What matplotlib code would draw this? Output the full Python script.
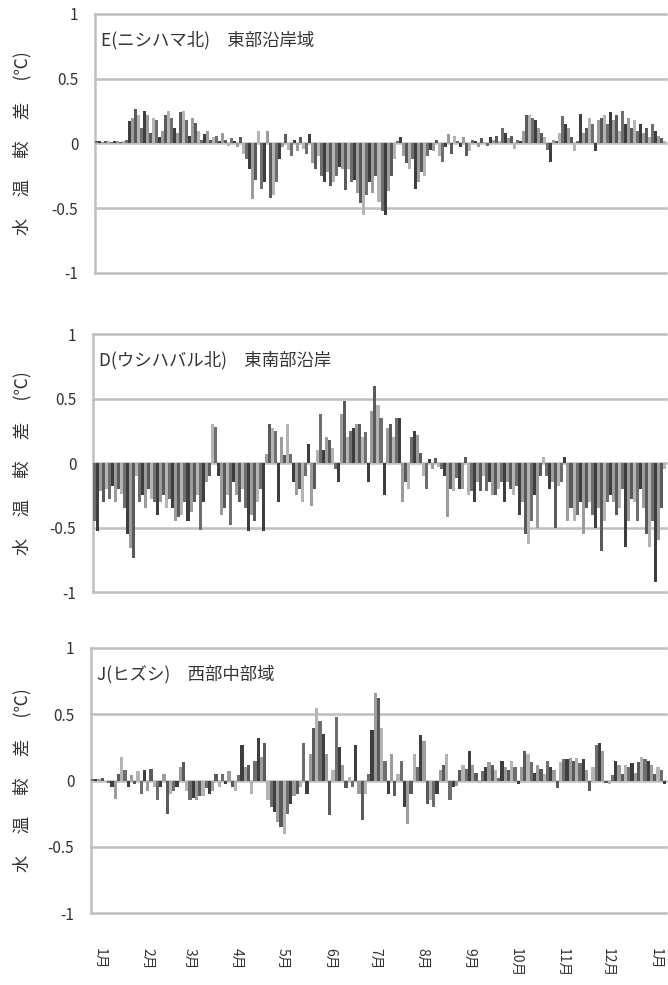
import numpy as np
import matplotlib
matplotlib.use("Agg")
import matplotlib.pyplot as plt

plt.rcParams['font.family'] = ['Noto Sans CJK JP', 'DejaVu Sans']

# 水温較差 (℃) - 3地点
titles = ["E(ニシハマ北)　東部沿岸域", "D(ウシハバル北)　東南部沿岸", "J(ヒズシ)　西部中部域"]
month_labels = ["1月", "2月", "3月", "4月", "5月", "6月", "7月", "8月", "9月", "10月", "11月", "12月", "1月"]
month_days = [0, 31, 59, 90, 120, 151, 181, 212, 243, 273, 304, 334, 365]
y_ticks = [-1, -0.5, 0, 0.5, 1]
y_ticklabels = ["-1", "-0.5", "0", "0.5", "1"]

vals_e = [0.02, 0.02, 0.01, 0.02, 0.02, 0.01, 0.02, 0.02, 0.01, 0.02,
          0.03,
          0.17, 0.2, 0.27, 0.22, 0.12, 0.25, 0.22, 0.08, 0.2, 0.18, 0.05, 0.1, 0.22, 0.25, 0.2,
          0.12, 0.08, 0.24, 0.25, 0.18, 0.06, 0.2, 0.16, 0.1, 0.03, 0.07, 0.1, 0.03, 0.05,
          0.06, 0.02, 0.08, 0.03, -0.02, 0.04, 0.02, -0.03, 0.05,
          -0.08, -0.12, -0.2, -0.43, -0.28, 0.1, -0.35, -0.3, 0.1, -0.42, -0.4, -0.3, -0.12,
          -0.03, 0.07, -0.05, -0.1, 0.03, -0.06, 0.05, -0.04, -0.08, 0.07,
          -0.15, -0.2, -0.1, -0.25, -0.3, -0.22, -0.33,
          -0.3, -0.25, -0.18, -0.2,
          -0.36, -0.2, -0.3, -0.28, -0.38, -0.46, -0.55,
          -0.4, -0.3, -0.38, -0.25, -0.45, -0.52, -0.55,
          -0.37, -0.25, -0.12, 0.02,
          0.05, -0.1, -0.15, -0.2, -0.12, -0.35, -0.3, -0.22, -0.25, -0.1, -0.05,
          -0.06, 0.03, -0.1, -0.14, -0.03, 0.07, -0.08,
          0.06, 0.02, -0.03, 0.05, -0.1, -0.06, 0.03,
          0.02, -0.03, 0.04, 0.01, -0.02, 0.05, 0.03, 0.06, 0.02, 0.12, 0.08, 0.04, 0.06,
          -0.04, 0.03, 0.02,
          0.1, 0.22, 0.22, 0.2, 0.18, 0.12,
          0.08, 0.05, -0.05, -0.14, 0.03, 0.02, 0.08,
          0.21, 0.15, 0.12, 0.05,
          -0.06, 0.02, 0.23, 0.08,
          0.12, 0.2, 0.15, -0.06, 0.18, 0.2, 0.22, 0.15, 0.24, 0.18, 0.22, 0.1, 0.25, 0.15, 0.2, 0.12,
          0.18, 0.1, 0.15, 0.08, 0.12, 0.05, 0.15, 0.1, 0.06, 0.04, 0.02]

vals_d = [-0.45, -0.53, -0.22, -0.3, -0.2,
          -0.28, -0.18, -0.3, -0.2, -0.24, -0.35,
          -0.55, -0.66, -0.74,
          -0.1, -0.3, -0.25, -0.35, -0.2, -0.28, -0.3,
          -0.4, -0.3, -0.25, -0.35, -0.28,
          -0.35, -0.45, -0.42, -0.4,
          -0.3, -0.45, -0.38, -0.3,
          -0.25, -0.52, -0.3, -0.15, -0.1,
          0.3, 0.28, -0.1,
          -0.4, -0.35, -0.25, -0.48,
          -0.15, -0.25, -0.3, -0.2, -0.35, -0.53, -0.4,
          -0.45, -0.3, -0.2, -0.53,
          0.07,
          0.3, 0.27, 0.25,
          -0.3, 0.2, 0.06,
          0.3, 0.07,
          -0.15, -0.25, -0.2, -0.3, -0.1, 0.15, -0.33,
          -0.2, 0.1, 0.38, 0.1, 0.2, 0.18, 0.12, -0.05,
          -0.15,
          0.38, 0.48, 0.2, 0.25,
          0.27, 0.3, 0.3, 0.2, 0.24,
          -0.15,
          0.4, 0.6, 0.45, 0.35,
          -0.25,
          0.27, 0.3, 0.2, 0.35, 0.35,
          -0.3, -0.15, -0.2,
          0.2, 0.25, 0.22,
          0.08, -0.1, -0.2, 0.03,
          -0.05, 0.04, -0.03, -0.05,
          -0.1, -0.42, -0.2, -0.22, -0.12, -0.2,
          -0.2, 0.05, -0.25, -0.22, -0.3, -0.15, -0.22,
          -0.1, -0.22, -0.15, -0.25, -0.25, -0.2, -0.15, -0.3,
          -0.15, -0.2, -0.25, -0.18, -0.4,
          -0.3, -0.55, -0.63, -0.45, -0.25, -0.5,
          -0.1, 0.05, -0.1,
          -0.2, -0.15, -0.5,
          -0.18, -0.15, 0.05,
          -0.45, -0.35, -0.45, -0.4, -0.3, -0.55, -0.35,
          -0.3, -0.4, -0.5, -0.35, -0.68, -0.45, -0.3,
          -0.25, -0.3, -0.4, -0.35, -0.2, -0.65, -0.45,
          -0.28, -0.3, -0.45, -0.2, -0.35, -0.55,
          -0.65, -0.45, -0.92, -0.6, -0.35, -0.05]

vals_j = [0.01, 0.01, 0.01, 0.02, 0.0, -0.02,
          -0.05, -0.14, 0.05, 0.18, 0.08,
          -0.05, 0.04, -0.03, 0.07, -0.1, 0.08,
          -0.08, 0.09, -0.05, -0.15, -0.05, 0.05,
          -0.25, -0.1, -0.08, -0.05, 0.1,
          0.14, -0.08, -0.15, -0.13, -0.15, -0.12,
          -0.12, -0.06, -0.1, -0.08, 0.05, -0.05,
          0.05, -0.03, 0.07, -0.05, -0.08, 0.04,
          0.27, 0.1, 0.12, -0.1, 0.15,
          0.32, 0.18, 0.28,
          -0.15, -0.2, -0.24, -0.31, -0.35, -0.4, -0.25,
          -0.18, -0.12, -0.1, -0.05, 0.28,
          -0.1, 0.2, 0.4,
          0.55, 0.45, 0.35, 0.2, -0.26,
          0.08,
          0.48, 0.25, 0.12, -0.06,
          0.03, -0.05, 0.27, -0.1, -0.3, -0.1, 0.05,
          0.38, 0.66, 0.62, 0.4, 0.15,
          -0.1, 0.2, -0.12, 0.05,
          0.15, -0.2, -0.33, -0.1,
          0.2, 0.1, 0.34, 0.3,
          -0.18, -0.15, -0.2, -0.1,
          0.08, 0.12, 0.2, -0.15, -0.05,
          -0.04, 0.08, 0.12, 0.09, 0.22, 0.12, 0.06,
          -0.02, 0.07, 0.1, 0.14, 0.12, 0.08, 0.02, 0.15,
          0.1, 0.08, 0.15, 0.1, -0.03, 0.1, 0.22, 0.2,
          0.14, 0.06, 0.12, 0.09, 0.05, 0.15, 0.1,
          0.08, -0.06, 0.14, 0.16, 0.16, 0.17, 0.15,
          0.17, 0.13, 0.16, 0.08, -0.08, 0.1, 0.27,
          0.28, 0.22, -0.02, -0.03,
          0.04, 0.15, 0.12, 0.05, 0.12, 0.1, 0.13,
          0.06, 0.14, 0.18, 0.16, 0.15, 0.12, 0.05,
          0.1, 0.08, -0.03]

X_START, X_END = -6, 372
SHADES = ['#6e6e6e', '#3e3e3e', '#9c9c9c', '#5a5a5a', '#b4b4b4']
GRID = '#bfbfbf'


def draw_panel(ax, vals, title, show_x=False):
    n = len(vals)
    step = (X_END - X_START) / n
    x = X_START + step * (np.arange(n) + 0.5)
    colors = [SHADES[i % len(SHADES)] for i in range(n)]
    ax.bar(x, vals, width=step, color=colors, linewidth=0, zorder=3)
    for y in y_ticks:
        ax.axhline(y, color=GRID, lw=1.8, zorder=1, clip_on=False)
    ax.set_xlim(X_START, X_END)
    ax.set_ylim(-1, 1)
    for s in ['top', 'right', 'bottom']:
        ax.spines[s].set_visible(False)
    ax.spines['left'].set_color(GRID)
    ax.spines['left'].set_linewidth(1.8)
    ax.set_yticks(y_ticks)
    ax.set_yticklabels(y_ticklabels)
    ax.tick_params(axis='y', length=0, pad=12, labelsize=11, labelcolor='#333333')
    ax.text(0.01, 0.9, title, transform=ax.transAxes, fontsize=12.5,
            color='#333333', va='center', ha='left')
    if show_x:
        ax.set_xticks(month_days)
        ax.set_xticklabels(month_labels, rotation=270, fontsize=10, color='#333333',
                           va='top', ha='center')
        ax.tick_params(axis='x', length=0, pad=25)
    else:
        ax.set_xticks([])


fig = plt.figure(figsize=(6.68, 9.85), dpi=100)
W, H = 668, 985
boxes = [(95, 14, 273), (93, 334, 592), (91, 648, 913)]
all_vals = [vals_e, vals_d, vals_j]
for k, (left, top, bottom) in enumerate(boxes):
    ax = fig.add_axes([left / W, 1 - bottom / H, (666 - left) / W, (bottom - top) / H])
    draw_panel(ax, all_vals[k], titles[k], show_x=(k == 2))
    fig.text(22 / W, 1 - (top + bottom) / 2 / H, "水　 温　 較　 差　 (℃)",
             rotation=90, ha='center', va='center', fontsize=12.5, color='#333333')

fig.savefig("out.png", dpi=100)
